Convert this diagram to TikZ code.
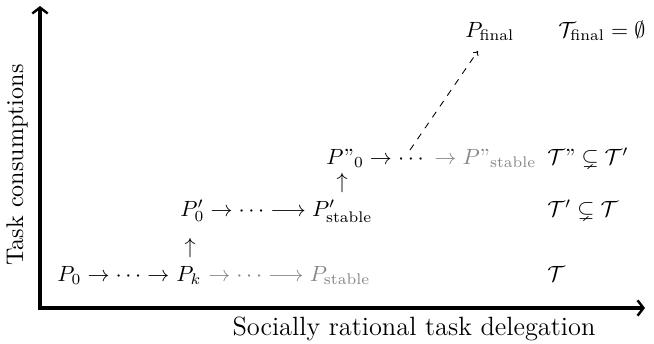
\documentclass[tikz,border=0pt]{standalone}
\usepackage{amsmath}
\usepackage{amssymb}
\usetikzlibrary{arrows.meta,calc}
\begin{document}
\begin{tikzpicture}[x=0.4545pt,y=-0.4545pt,
  txt/.style={inner sep=0pt},
  faded/.style={text=black!47},
  axis/.style={line width=1.4pt, line join=miter,
    {Straight Barb[length=2.7pt,width=7pt,line width=1.1pt]}-{Straight Barb[length=2.7pt,width=7pt,line width=1.1pt]}},
  link/.style={dash pattern=on 3pt off 3pt, line width=0.4pt, -{To[length=2pt,width=3pt]}}]
\useasboundingbox (0,0) rectangle (654,343);
% axes
\coordinate (O) at (40,308);
\coordinate (Ytip) at (40,6);
\coordinate (Xtip) at (645,308);
\draw[axis] (Ytip) -- (O) -- (Xtip);
\node[txt, rotate=90, font=\fontsize{10.95}{13}\selectfont] (ylab) at (17,165) {Task consumptions};
\node[txt, anchor=base, font=\large] (xlab) at (414,335) {Socially rational task delegation};
% row 1
\node[txt, anchor=base west] (r1a) at (57,281) {$P_0 \to \cdots \to{}$};
\node[txt, anchor=base west] (pk) at (r1a.base east) {$P_k$};
\node[txt, faded, anchor=base west] (r1b) at (pk.base east) {${}\to \cdots \longrightarrow P_{\text{stable}}$};
\node[txt] (u1) at (190,248) {$\uparrow$};
% row 2
\node[txt, anchor=base west] (r2) at (180,216) {$P'_0 \to \cdots \longrightarrow P'_{\text{stable}}$};
\node[txt] (u2) at (342,183) {$\uparrow$};
% row 3
\node[txt, anchor=base west] (r3a) at (326,164) {$P\text{''}_0 \to \cdots$};
\node[txt, faded, anchor=base west] (r3b) at (r3a.base east) {${}\to P\text{''}_{\text{stable}}$};
% row 4
\node[txt, anchor=base west] (pf) at (465,37) {$P_{\text{final}}$};
\coordinate (dstart) at (410,150);
\draw[link] (dstart) -- ($(pf.south west)+(13,10)$);
% right column
\node[txt, anchor=base west] (t1) at (547,281) {$\mathcal{T}$};
\node[txt, anchor=base west] (t2) at (547,216) {$\mathcal{T}' \subsetneq \mathcal{T}$};
\node[txt, anchor=base west] (t3) at (547,164) {$\mathcal{T}\text{''} \subsetneq \mathcal{T}'$};
\node[txt, anchor=base west] (t4) at (558,37) {$\mathcal{T}_{\text{final}} = \emptyset$};
\end{tikzpicture}
\end{document}
